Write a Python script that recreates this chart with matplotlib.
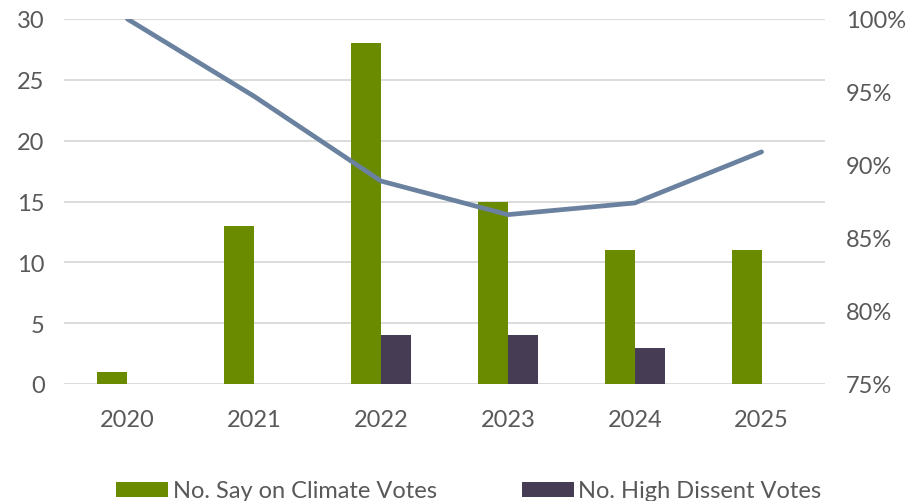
import matplotlib
matplotlib.use("Agg")
import matplotlib.pyplot as plt
import numpy as np
from matplotlib.ticker import FuncFormatter

plt.rcParams['font.family'] = ['Lato', 'DejaVu Sans']

years = ["2020", "2021", "2022", "2023", "2024", "2025"]
say_on_climate = [1, 13, 28, 15, 11, 11]
high_dissent = [0, 0, 4, 4, 3, 0]
avg_support = [100.0, 94.7, 88.9, 86.6, 87.4, 90.9]

green = "#6a8a00"
purple = "#463c54"
line_c = "#6a829f"
grid_c = "#d9d9d9"
text_c = "#595959"

fig = plt.figure(figsize=(9.10, 5.02), dpi=100)
ax = fig.add_axes([64/910, 1-385/502, (825-64)/910, (385-20)/502])
ax2 = ax.twinx()

x = np.arange(len(years))
w = 0.237
ax.bar(x - w/2, say_on_climate, width=w, color=green, label="No. Say on Climate Votes", zorder=2)
ax.bar(x + w/2, high_dissent, width=w, color=purple, label="No. High Dissent Votes", zorder=2)
ax2.plot(x, avg_support, color=line_c, lw=3.4, solid_capstyle='round', solid_joinstyle='round', zorder=3)

ax.set_xlim(-0.5, len(years) - 0.5)
ax.set_ylim(0, 30)
ax.set_yticks(range(0, 31, 5))
ax2.set_ylim(75, 100)
ax2.set_yticks(range(75, 101, 5))
ax2.yaxis.set_major_formatter(FuncFormatter(lambda v, p: f"{int(v)}%"))
ax.set_xticks(x)
ax.set_xticklabels(years)

ax.yaxis.grid(True, color=grid_c, lw=1.3, zorder=0)
ax.set_axisbelow(True)
for a in (ax, ax2):
    for s in a.spines.values():
        s.set_visible(False)
ax.tick_params(axis='both', length=0, labelsize=17, colors=text_c)
ax.tick_params(axis='y', pad=14)
ax.tick_params(axis='x', pad=18)
ax2.tick_params(axis='y', length=0, labelsize=17, colors=text_c, pad=15)

ax.set_zorder(ax2.get_zorder() - 1)
ax.patch.set_visible(False)
ax2.patch.set_visible(False)

leg = fig.legend(loc='lower center', bbox_to_anchor=(0.515, -0.043), ncol=2, frameon=False,
                 fontsize=17, handlelength=2.2, handleheight=0.6, handletextpad=0.2,
                 columnspacing=3.6, labelcolor=text_c)

fig.savefig("out.png", dpi=100)
